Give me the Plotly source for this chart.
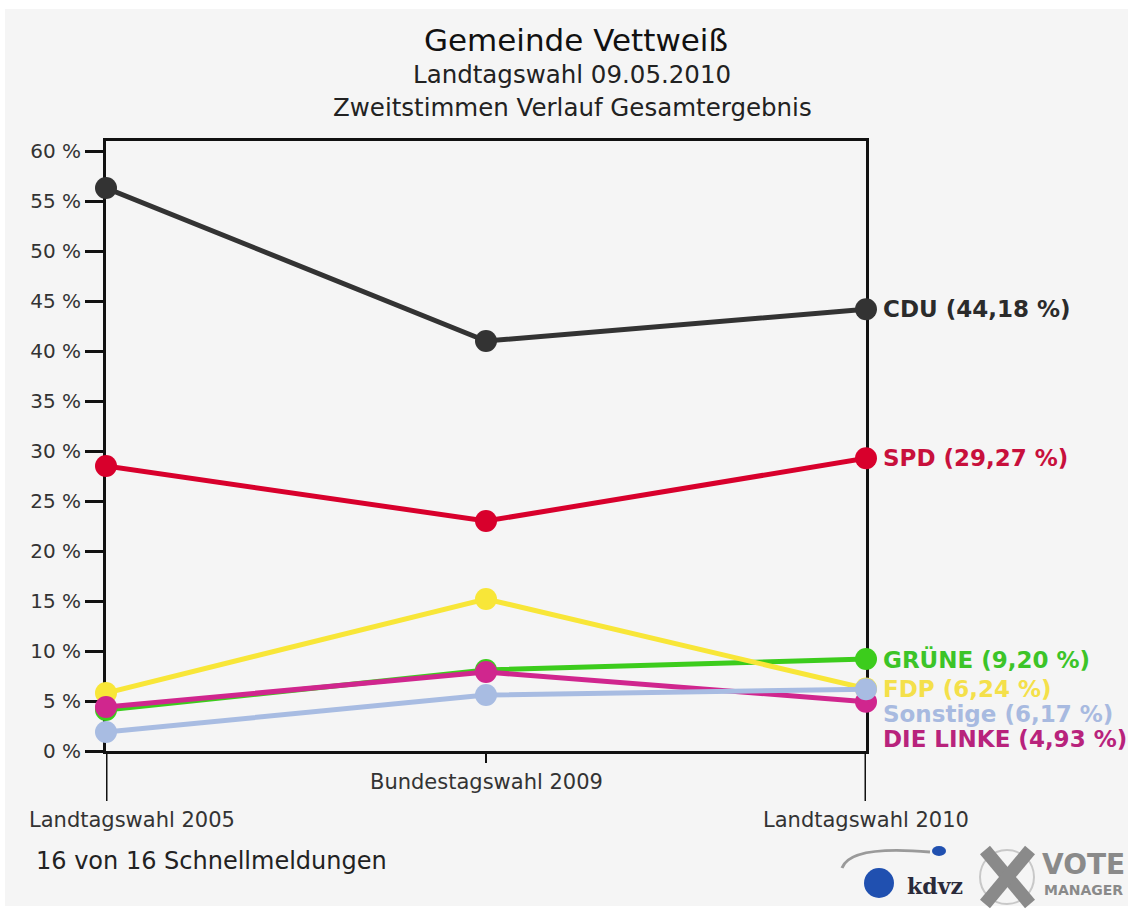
import plotly.graph_objects as go

# ---------------- data ----------------
categories = ["Landtagswahl 2005", "Bundestagswahl 2009", "Landtagswahl 2010"]
parties = ["CDU", "SPD", "GRÜNE", "FDP", "DIE LINKE", "Sonstige"]
cdu = [56.3, 41.0, 44.18]
spd = [28.5, 23.0, 29.27]
gruene = [4.1, 8.1, 9.20]
fdp = [5.8, 15.2, 6.24]
linke = [4.4, 7.9, 4.93]
sonstige = [1.9, 5.6, 6.17]
final_labels = ["44,18 %", "29,27 %", "9,20 %", "6,24 %", "4,93 %", "6,17 %"]
y_tick_values = [0, 5, 10, 15, 20, 25, 30, 35, 40, 45, 50, 55, 60]
y_tick_labels = [f"{v} %" for v in y_tick_values]

series = {
    "CDU": cdu, "SPD": spd, "GRÜNE": gruene,
    "FDP": fdp, "DIE LINKE": linke, "Sonstige": sonstige,
}
line_colors = {
    "CDU": "#333333", "SPD": "#d8002c", "GRÜNE": "#3ccc1c",
    "FDP": "#f8e638", "DIE LINKE": "#d0268e", "Sonstige": "#a8bce2",
}
text_colors = {
    "CDU": "#2b2b2b", "SPD": "#c8103c", "GRÜNE": "#3cc428",
    "FDP": "#f4e04a", "DIE LINKE": "#b8237c", "Sonstige": "#a8bae0",
}
label_of = dict(zip(parties, final_labels))

# ---------------- layout geometry (pixels) ----------------
W, H = 1133, 911
L, R, T, B = 106, 866, 141, 751
Y_MAX = (B - T) / 10.0  # 10 px per percent

def px_x(p):
    return (p - L) / (R - L)

def px_y(p):
    return (B - p) / (B - T)

FONT = "DejaVu Sans"
x_pos = list(range(len(categories)))

fig = go.Figure()
for name in parties:
    fig.add_trace(go.Scatter(
        x=x_pos, y=series[name], mode="lines+markers", name=name,
        line=dict(color=line_colors[name], width=5),
        marker=dict(color=line_colors[name], size=22),
        cliponaxis=False, showlegend=False, hoverinfo="skip",
    ))

# right-hand labels with simple collision avoidance (min gap 2.5 units)
order = sorted(parties, key=lambda n: series[n][-1], reverse=True)
annotations = []
prev = None
for name in order:
    yv = series[name][-1]
    if prev is not None:
        yv = min(yv, prev - 2.5)
    prev = yv
    annotations.append(dict(
        x=x_pos[-1], y=yv, xref="x", yref="y", text=f"{name} ({label_of[name]})",
        showarrow=False, xanchor="left", yanchor="middle", xshift=15,
        font=dict(family=FONT, size=23, color=text_colors[name], weight="bold"),
    ))

# titles
annotations += [
    dict(x=px_x(576), y=px_y(40), xref="paper", yref="paper", text="Gemeinde Vettweiß",
         showarrow=False, xanchor="center", yanchor="middle",
         font=dict(family=FONT, size=31, color="#111111")),
    dict(x=px_x(572), y=px_y(74), xref="paper", yref="paper", text="Landtagswahl 09.05.2010",
         showarrow=False, xanchor="center", yanchor="middle",
         font=dict(family=FONT, size=24.5, color="#222222")),
    dict(x=px_x(572), y=px_y(107), xref="paper", yref="paper",
         text="Zweitstimmen Verlauf Gesamtergebnis",
         showarrow=False, xanchor="center", yanchor="middle",
         font=dict(family=FONT, size=24.5, color="#222222")),
]

# category labels
annotations += [
    dict(x=px_x(27), y=px_y(820), xref="paper", yref="paper", text=categories[0],
         showarrow=False, xanchor="left", yanchor="middle",
         font=dict(family=FONT, size=21, color="#333333")),
    dict(x=x_pos[1], y=px_y(782), xref="x", yref="paper", text=categories[1],
         showarrow=False, xanchor="center", yanchor="middle",
         font=dict(family=FONT, size=21, color="#333333")),
    dict(x=x_pos[2], y=px_y(820), xref="x", yref="paper", text=categories[2],
         showarrow=False, xanchor="center", yanchor="middle",
         font=dict(family=FONT, size=21, color="#333333")),
]

# footer
annotations.append(dict(
    x=px_x(34), y=px_y(861), xref="paper", yref="paper", text="16 von 16 Schnellmeldungen",
    showarrow=False, xanchor="left", yanchor="middle",
    font=dict(family=FONT, size=24, color="#222222")))

# logos (approximate)
annotations += [
    dict(x=px_x(935), y=px_y(886), xref="paper", yref="paper", text="kdvz",
         showarrow=False, xanchor="center", yanchor="middle",
         font=dict(family="DejaVu Serif", size=22, color="#2a2a3a", weight="bold")),
    dict(x=px_x(1083), y=px_y(864), xref="paper", yref="paper", text="VOTE",
         showarrow=False, xanchor="center", yanchor="middle",
         font=dict(family=FONT, size=28, color="#8a8a8a", weight="bold")),
    dict(x=px_x(1083), y=px_y(890), xref="paper", yref="paper", text="MANAGER",
         showarrow=False, xanchor="center", yanchor="middle",
         font=dict(family=FONT, size=14, color="#8a8a8a", weight="bold")),
]

shapes = [
    # background panel
    dict(type="rect", xref="paper", yref="paper", x0=px_x(5), x1=px_x(1128),
         y0=px_y(906), y1=px_y(9), fillcolor="#f5f5f5", line=dict(width=0), layer="below"),
    # extended outer vertical frame/tick lines below the axis
    dict(type="line", xref="x", yref="paper", x0=x_pos[0], x1=x_pos[0], y0=0, y1=px_y(801),
         line=dict(color="#111111", width=3)),
    dict(type="line", xref="x", yref="paper", x0=x_pos[2], x1=x_pos[2], y0=0, y1=px_y(801),
         line=dict(color="#111111", width=3)),
    dict(type="line", xref="x", yref="paper", x0=x_pos[1], x1=x_pos[1], y0=0, y1=px_y(763),
         line=dict(color="#111111", width=2)),
    # kdvz swoosh + ball
    dict(type="path", xref="paper", yref="paper",
         path=f"M {px_x(842)},{px_y(868)} Q {px_x(850)},{px_y(845)} {px_x(930)},{px_y(852)}",
         line=dict(color="#9a9a9a", width=3)),
    dict(type="circle", xref="paper", yref="paper", x0=px_x(864), x1=px_x(894),
         y0=px_y(898), y1=px_y(868), fillcolor="#2050b0", line=dict(width=0)),
    dict(type="circle", xref="paper", yref="paper", x0=px_x(932), x1=px_x(946),
         y0=px_y(856), y1=px_y(846), fillcolor="#2050b0", line=dict(width=0)),
    # vote manager X
    dict(type="circle", xref="paper", yref="paper", x0=px_x(980), x1=px_x(1034),
         y0=px_y(904), y1=px_y(850), fillcolor="rgba(0,0,0,0)",
         line=dict(color="#c8c8c8", width=2)),
    dict(type="line", xref="paper", yref="paper", x0=px_x(985), x1=px_x(1030),
         y0=px_y(850), y1=px_y(904), line=dict(color="#8a8a8a", width=13)),
    dict(type="line", xref="paper", yref="paper", x0=px_x(1030), x1=px_x(985),
         y0=px_y(850), y1=px_y(904), line=dict(color="#8a8a8a", width=13)),
]

fig.update_layout(
    width=W, height=H,
    margin=dict(l=L, r=W - R, t=T, b=H - B, pad=0),
    paper_bgcolor="#ffffff", plot_bgcolor="#f5f5f5",
    annotations=annotations, shapes=shapes,
    font=dict(family=FONT),
)
fig.update_xaxes(
    range=[x_pos[0], x_pos[-1]], showgrid=False, zeroline=False,
    showticklabels=False, ticks="", showline=True, mirror=True,
    linecolor="#111111", linewidth=3, layer="below traces",
)
fig.update_yaxes(
    range=[0, Y_MAX], tickvals=y_tick_values, ticktext=y_tick_labels,
    showgrid=False, zeroline=False, ticks="outside", ticklen=18, tickwidth=3,
    tickcolor="#111111", showline=True, mirror=True, linecolor="#111111",
    linewidth=3, layer="below traces",
    tickfont=dict(family=FONT, size=20, color="#333333"),
)

fig.write_html(
    "out.html",
    config={"displayModeBar": False},
    post_script="document.body.style.margin='0';document.body.style.overflow='hidden';",
)
